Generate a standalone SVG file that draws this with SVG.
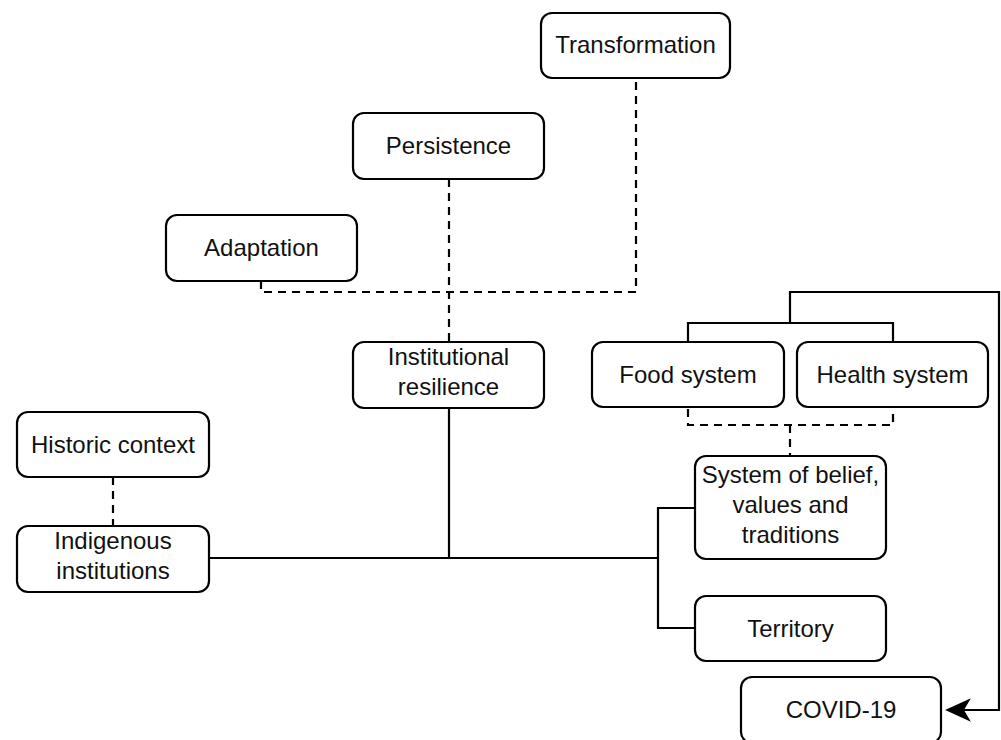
<svg xmlns="http://www.w3.org/2000/svg" width="1001" height="740" viewBox="0 0 1001 740">
<style>
.box{fill:#fff;stroke:#000;stroke-width:2.2}
.t{font-family:"Liberation Sans",Arial,sans-serif;font-size:24px;fill:#111;text-anchor:middle}
.s{fill:none;stroke:#000;stroke-width:2.2}
.d{fill:none;stroke:#000;stroke-width:2.2;stroke-dasharray:8 6}
</style>
<rect width="1001" height="740" fill="#fff"/>
<g id="connectors">
<path class="d" d="M261,281 V292 H636 V78"/>
<path class="d" d="M449,179 V342"/>
<path class="d" d="M113,477 V526"/>
<path class="d" d="M688,409 V425 H893 V409"/>
<path class="d" d="M790,425 V456"/>
<path class="s" d="M209,558 H658"/>
<path class="s" d="M449,408 V558"/>
<path class="s" d="M695,508 H658 V628 H695"/>
<path class="s" d="M688,342 V323 H893 V342"/>
<path class="s" d="M790,323 V292 H999 V710 H960"/>
<polygon points="947,710 969,700 963,710 969,720" fill="#000" stroke="#000" stroke-width="1.5" stroke-linejoin="miter"/>
</g>
<g id="transformation"><rect class="box" x="541" y="13" width="189" height="65" rx="11"/><text class="t" x="635.5" y="53">Transformation</text></g>
<g id="persistence"><rect class="box" x="353" y="113" width="191" height="66" rx="11"/><text class="t" x="448.5" y="154">Persistence</text></g>
<g id="adaptation"><rect class="box" x="166" y="215" width="191" height="66" rx="11"/><text class="t" x="261.5" y="256">Adaptation</text></g>
<g id="institutional-resilience"><rect class="box" x="353" y="342" width="191" height="66" rx="11"/><text class="t" x="448.5" y="365">Institutional</text><text class="t" x="448.5" y="395">resilience</text></g>
<g id="historic-context"><rect class="box" x="17" y="412" width="192" height="65" rx="11"/><text class="t" x="113" y="452.5">Historic context</text></g>
<g id="indigenous-institutions"><rect class="box" x="17" y="526" width="192" height="66" rx="11"/><text class="t" x="113" y="549">Indigenous</text><text class="t" x="113" y="579">institutions</text></g>
<g id="food-system"><rect class="box" x="592" y="342" width="192" height="65" rx="11"/><text class="t" x="688" y="382.5">Food system</text></g>
<g id="health-system"><rect class="box" x="797" y="342" width="191" height="65" rx="11"/><text class="t" x="892.5" y="382.5">Health system</text></g>
<g id="system-of-belief"><rect class="box" x="695" y="456" width="191" height="103" rx="11"/><text class="t" x="790.5" y="483">System of belief,</text><text class="t" x="790.5" y="513">values and</text><text class="t" x="790.5" y="543">traditions</text></g>
<g id="territory"><rect class="box" x="695" y="596" width="191" height="65" rx="11"/><text class="t" x="790.5" y="636.5">Territory</text></g>
<g id="covid-19"><rect class="box" x="741" y="677" width="200" height="66" rx="11"/><text class="t" x="841" y="718">COVID-19</text></g>
</svg>
